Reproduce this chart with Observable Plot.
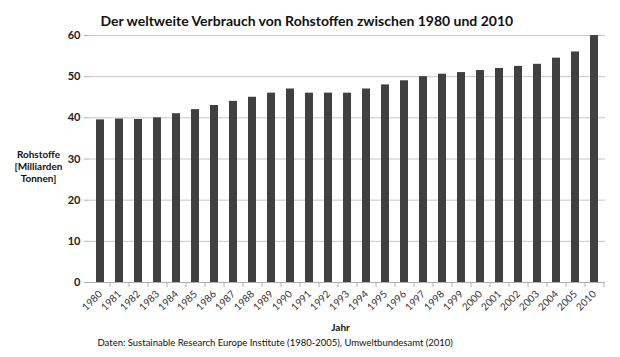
<!DOCTYPE html>
<html>
<head>
<meta charset="utf-8">
<script src="https://cdn.jsdelivr.net/npm/d3@7"></script>
<script src="https://cdn.jsdelivr.net/npm/@observablehq/plot@0.6"></script>
<style>
  html, body { margin: 0; padding: 0; background: #fff; }
  #chart svg { display: block; }
</style>
</head>
<body>
<div id="chart"></div>
<script>
const years = ["1980","1981","1982","1983","1984","1985","1986","1987","1988","1989","1990","1991","1992","1993","1994","1995","1996","1997","1998","1999","2000","2001","2002","2003","2004","2005","2010"];
const values = [39.5,39.7,39.6,40,41,42,43,44,45,46,47,46,46,46,47,48,49,50,50.6,51,51.5,52,52.5,53,54.5,56,60];
const yTicks = [0,10,20,30,40,50,60];
const titleText = "Der weltweite Verbrauch von Rohstoffen zwischen 1980 und 2010";
const yLabel = "Rohstoffe\n[Milliarden\nTonnen]";
const xLabel = "Jahr";
const captionText = "Daten: Sustainable Research Europe Institute (1980-2005), Umweltbundesamt (2010)";

const data = years.map((y, i) => ({year: y, value: values[i]}));

const W = 620, H = 357;
const mL = 89, mR = 15, mT = 35, mB = 75;
const step = (W - mL - mR) / years.length;
const font = "Lato, 'Open Sans', sans-serif";

const chart = Plot.plot({
  width: W,
  height: H,
  marginLeft: mL,
  marginRight: mR,
  marginTop: mT,
  marginBottom: mB,
  style: {fontFamily: font, background: "#fff", color: "#222"},
  x: {domain: years, paddingInner: 0.58, paddingOuter: 0.29, label: null},
  y: {domain: [0, 60], label: null},
  marks: [
    Plot.gridY(yTicks.filter(d => d > 0), {stroke: "#c8c8c8", strokeOpacity: 1}),
    Plot.ruleX([0], {frameAnchor: "left", stroke: "#b8b8b8"}),
    Plot.barY(data, {x: "year", y: "value", fill: "#404040"}),
    Plot.ruleY([0], {stroke: "#b0b0b0"}),
    Plot.axisY({ticks: yTicks, tickSize: 5, tickPadding: 4, stroke: "#b0b0b0", fontSize: 11, fontWeight: "bold", fill: "#222", label: null}),
    Plot.axisX({tickSize: 5, dx: step / 2, tickFormat: () => "", stroke: "#b0b0b0", label: null}),
    Plot.axisX({tickSize: 0, tickRotate: -45, tickPadding: 10, fontSize: 10, fill: "#333", label: null}),
    Plot.text([titleText], {frameAnchor: "top-left", textAnchor: "start", dx: 11, dy: -19, fontSize: 14, fontWeight: "bold", fill: "#111", letterSpacing: "-0.5px"}),
    Plot.text([yLabel], {frameAnchor: "left", textAnchor: "middle", dx: -51, dy: 7, fontSize: 10, fontWeight: "bold", lineHeight: 1.2, fill: "#111"}),
    Plot.text([xLabel], {frameAnchor: "bottom", textAnchor: "middle", dx: -7, dy: 48, fontSize: 10, fontWeight: "bold", fill: "#111"}),
    Plot.text([captionText], {frameAnchor: "bottom-left", textAnchor: "start", dx: 8, dy: 63, fontSize: 9.5, fill: "#111", letterSpacing: "-0.3px"})
  ]
});
document.getElementById("chart").appendChild(chart);
</script>
</body>
</html>
